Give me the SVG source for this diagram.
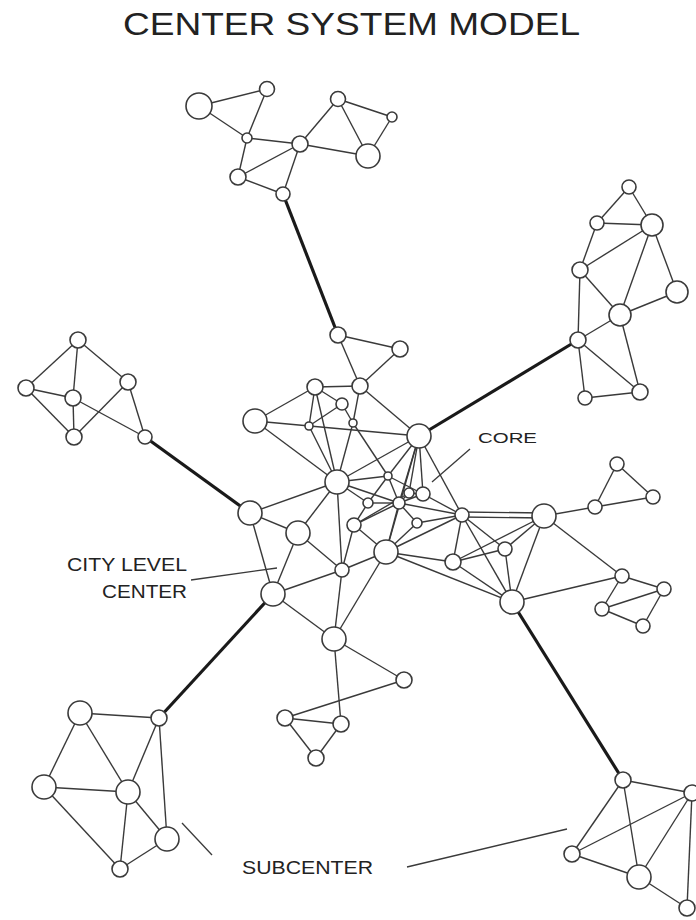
<svg xmlns="http://www.w3.org/2000/svg" width="696" height="920" viewBox="0 0 696 920">
<style>
.e{stroke:#3a3a3a;stroke-width:1.4;fill:none}
.t{stroke:#1a1a1a;stroke-width:3.2;fill:none}
.l{stroke:#3a3a3a;stroke-width:1.3;fill:none}
circle{fill:#fff;stroke:#3a3a3a;stroke-width:1.6}
text{font-family:"Liberation Sans",Arial,sans-serif;fill:#222}
</style>
<rect width="696" height="920" fill="#fff"/>
<text x="123" y="35" font-size="32" textLength="457" lengthAdjust="spacingAndGlyphs">CENTER SYSTEM MODEL</text>
<g id="connectors">
<!-- top cluster -->
<line class="e" x1="199" y1="106" x2="267" y2="89"/>
<line class="e" x1="199" y1="106" x2="247" y2="138"/>
<line class="e" x1="267" y1="89" x2="247" y2="138"/>
<line class="e" x1="247" y1="138" x2="300" y2="144"/>
<line class="e" x1="247" y1="138" x2="238" y2="177"/>
<line class="e" x1="238" y1="177" x2="300" y2="144"/>
<line class="e" x1="238" y1="177" x2="283" y2="194"/>
<line class="e" x1="300" y1="144" x2="283" y2="194"/>
<line class="e" x1="300" y1="144" x2="338" y2="99"/>
<line class="e" x1="300" y1="144" x2="368" y2="156"/>
<line class="e" x1="338" y1="99" x2="368" y2="156"/>
<line class="e" x1="338" y1="99" x2="392" y2="117"/>
<line class="e" x1="392" y1="117" x2="368" y2="156"/>
<line class="t" x1="283" y1="194" x2="338" y2="335"/>
<!-- upper core -->
<line class="e" x1="338" y1="335" x2="400" y2="349"/>
<line class="e" x1="338" y1="335" x2="360" y2="386"/>
<line class="e" x1="400" y1="349" x2="360" y2="386"/>
<line class="e" x1="360" y1="386" x2="315" y2="387"/>
<line class="e" x1="360" y1="386" x2="419" y2="436"/>
<line class="e" x1="360" y1="386" x2="353" y2="423"/>
<line class="e" x1="315" y1="387" x2="255" y2="421"/>
<line class="e" x1="315" y1="387" x2="309" y2="426"/>
<line class="e" x1="315" y1="387" x2="342" y2="404"/>
<line class="e" x1="315" y1="387" x2="337" y2="482"/>
<line class="e" x1="255" y1="421" x2="419" y2="436"/>
<line class="e" x1="255" y1="421" x2="337" y2="482"/>
<line class="e" x1="309" y1="426" x2="337" y2="482"/>
<line class="e" x1="353" y1="423" x2="337" y2="482"/>
<line class="e" x1="342" y1="404" x2="309" y2="426"/>
<line class="e" x1="342" y1="404" x2="353" y2="423"/>
<line class="e" x1="353" y1="423" x2="388" y2="476"/>
<line class="e" x1="337" y1="482" x2="419" y2="436"/>
<line class="e" x1="337" y1="482" x2="250" y2="513"/>
<line class="e" x1="337" y1="482" x2="298" y2="533"/>
<line class="e" x1="337" y1="482" x2="342" y2="570"/>
<line class="e" x1="337" y1="482" x2="388" y2="476"/>
<line class="e" x1="337" y1="482" x2="399" y2="503"/>
<line class="e" x1="337" y1="482" x2="368" y2="503"/>
<line class="e" x1="419" y1="436" x2="388" y2="476"/>
<line class="e" x1="419" y1="436" x2="399" y2="503"/>
<line class="e" x1="419" y1="436" x2="409" y2="493"/>
<line class="e" x1="419" y1="436" x2="423" y2="494"/>
<line class="e" x1="419" y1="436" x2="386" y2="552"/>
<line class="e" x1="419" y1="436" x2="462" y2="515"/>
<line class="t" x1="419" y1="436" x2="578" y2="340"/>
<!-- core star -->
<line class="e" x1="399" y1="503" x2="388" y2="476"/>
<line class="e" x1="399" y1="503" x2="409" y2="493"/>
<line class="e" x1="399" y1="503" x2="423" y2="494"/>
<line class="e" x1="399" y1="503" x2="368" y2="503"/>
<line class="e" x1="399" y1="503" x2="417" y2="523"/>
<line class="e" x1="399" y1="503" x2="354" y2="525"/>
<line class="e" x1="399" y1="503" x2="386" y2="552"/>
<line class="e" x1="399" y1="503" x2="462" y2="515"/>
<line class="e" x1="409" y1="493" x2="423" y2="494"/>
<line class="e" x1="388" y1="476" x2="423" y2="494"/>
<line class="e" x1="368" y1="503" x2="354" y2="525"/>
<line class="e" x1="368" y1="503" x2="388" y2="476"/>
<line class="e" x1="423" y1="494" x2="462" y2="515"/>
<line class="e" x1="417" y1="523" x2="462" y2="515"/>
<line class="e" x1="417" y1="523" x2="386" y2="552"/>
<line class="e" x1="386" y1="552" x2="462" y2="515"/>
<line class="e" x1="386" y1="552" x2="453" y2="562"/>
<line class="e" x1="386" y1="552" x2="512" y2="602"/>
<line class="e" x1="386" y1="552" x2="354" y2="525"/>
<line class="e" x1="386" y1="552" x2="342" y2="570"/>
<line class="e" x1="386" y1="552" x2="334" y2="639"/>
<line class="e" x1="354" y1="525" x2="342" y2="570"/>
<line class="e" x1="354" y1="525" x2="409" y2="493"/>
<!-- left center -->
<line class="e" x1="250" y1="513" x2="298" y2="533"/>
<line class="e" x1="250" y1="513" x2="273" y2="594"/>
<line class="e" x1="298" y1="533" x2="273" y2="594"/>
<line class="e" x1="298" y1="533" x2="342" y2="570"/>
<line class="e" x1="273" y1="594" x2="342" y2="570"/>
<line class="e" x1="273" y1="594" x2="334" y2="639"/>
<line class="e" x1="342" y1="570" x2="334" y2="639"/>
<line class="t" x1="145" y1="437" x2="250" y2="513"/>
<line class="t" x1="273" y1="594" x2="159" y2="718"/>
<!-- left cluster -->
<line class="e" x1="78" y1="340" x2="26" y2="388"/>
<line class="e" x1="78" y1="340" x2="73" y2="398"/>
<line class="e" x1="78" y1="340" x2="128" y2="382"/>
<line class="e" x1="26" y1="388" x2="73" y2="398"/>
<line class="e" x1="26" y1="388" x2="74" y2="437"/>
<line class="e" x1="73" y1="398" x2="74" y2="437"/>
<line class="e" x1="73" y1="398" x2="145" y2="437"/>
<line class="e" x1="128" y1="382" x2="74" y2="437"/>
<line class="e" x1="128" y1="382" x2="145" y2="437"/>
<!-- right top cluster -->
<line class="e" x1="629" y1="187" x2="597" y2="223"/>
<line class="e" x1="629" y1="187" x2="652" y2="225"/>
<line class="e" x1="597" y1="223" x2="652" y2="225"/>
<line class="e" x1="597" y1="223" x2="580" y2="270"/>
<line class="e" x1="652" y1="225" x2="580" y2="270"/>
<line class="e" x1="652" y1="225" x2="620" y2="315"/>
<line class="e" x1="652" y1="225" x2="677" y2="292"/>
<line class="e" x1="677" y1="292" x2="620" y2="315"/>
<line class="e" x1="580" y1="270" x2="620" y2="315"/>
<line class="e" x1="580" y1="270" x2="578" y2="340"/>
<line class="e" x1="620" y1="315" x2="578" y2="340"/>
<line class="e" x1="620" y1="315" x2="640" y2="392"/>
<line class="e" x1="578" y1="340" x2="640" y2="392"/>
<line class="e" x1="578" y1="340" x2="585" y2="398"/>
<line class="e" x1="585" y1="398" x2="640" y2="392"/>
<!-- right middle cluster -->
<line class="e" x1="462" y1="512" x2="544" y2="513"/>
<line class="e" x1="462" y1="517" x2="544" y2="518"/>
<line class="e" x1="544" y1="516" x2="595" y2="507"/>
<line class="e" x1="595" y1="507" x2="617" y2="464"/>
<line class="e" x1="595" y1="507" x2="653" y2="497"/>
<line class="e" x1="617" y1="464" x2="653" y2="497"/>
<line class="e" x1="544" y1="516" x2="505" y2="549"/>
<line class="e" x1="544" y1="516" x2="453" y2="562"/>
<line class="e" x1="544" y1="516" x2="512" y2="602"/>
<line class="e" x1="544" y1="516" x2="622" y2="576"/>
<line class="e" x1="462" y1="515" x2="505" y2="549"/>
<line class="e" x1="462" y1="515" x2="453" y2="562"/>
<line class="e" x1="462" y1="515" x2="512" y2="602"/>
<line class="e" x1="453" y1="562" x2="505" y2="549"/>
<line class="e" x1="453" y1="562" x2="512" y2="602"/>
<line class="e" x1="505" y1="549" x2="512" y2="602"/>
<line class="e" x1="512" y1="602" x2="622" y2="576"/>
<line class="e" x1="622" y1="576" x2="664" y2="589"/>
<line class="e" x1="622" y1="576" x2="602" y2="609"/>
<line class="e" x1="602" y1="609" x2="664" y2="589"/>
<line class="e" x1="602" y1="609" x2="643" y2="626"/>
<line class="e" x1="643" y1="626" x2="664" y2="589"/>
<line class="t" x1="512" y1="602" x2="623" y2="780"/>
<!-- bottom middle -->
<line class="e" x1="334" y1="639" x2="404" y2="680"/>
<line class="e" x1="334" y1="639" x2="341" y2="724"/>
<line class="e" x1="404" y1="680" x2="285" y2="718"/>
<line class="e" x1="285" y1="718" x2="341" y2="724"/>
<line class="e" x1="285" y1="718" x2="316" y2="758"/>
<line class="e" x1="341" y1="724" x2="316" y2="758"/>
<!-- bottom left -->
<line class="e" x1="80" y1="713" x2="159" y2="718"/>
<line class="e" x1="80" y1="713" x2="44" y2="787"/>
<line class="e" x1="80" y1="713" x2="128" y2="792"/>
<line class="e" x1="159" y1="718" x2="128" y2="792"/>
<line class="e" x1="159" y1="718" x2="167" y2="839"/>
<line class="e" x1="44" y1="787" x2="128" y2="792"/>
<line class="e" x1="44" y1="787" x2="120" y2="869"/>
<line class="e" x1="128" y1="792" x2="120" y2="869"/>
<line class="e" x1="128" y1="792" x2="167" y2="839"/>
<line class="e" x1="167" y1="839" x2="120" y2="869"/>
<!-- bottom right -->
<line class="e" x1="623" y1="780" x2="692" y2="793"/>
<line class="e" x1="623" y1="780" x2="572" y2="854"/>
<line class="e" x1="623" y1="780" x2="639" y2="877"/>
<line class="e" x1="692" y1="793" x2="572" y2="854"/>
<line class="e" x1="692" y1="793" x2="639" y2="877"/>
<line class="e" x1="692" y1="793" x2="687" y2="908"/>
<line class="e" x1="572" y1="854" x2="639" y2="877"/>
<line class="e" x1="639" y1="877" x2="687" y2="908"/>
<!-- label leaders -->
<line class="l" x1="470" y1="449" x2="432" y2="482"/>
<line class="l" x1="191" y1="580" x2="277" y2="568"/>
<line class="l" x1="182" y1="823" x2="212" y2="855"/>
<line class="l" x1="407" y1="867" x2="567" y2="829"/>
</g>
<g id="n-top-A"><circle cx="199" cy="106" r="13"/></g>
<g id="n-top-B"><circle cx="267" cy="89" r="7.5"/></g>
<g id="n-top-C"><circle cx="247" cy="138" r="5"/></g>
<g id="n-top-D"><circle cx="300" cy="144" r="8"/></g>
<g id="n-top-E"><circle cx="238" cy="177" r="8"/></g>
<g id="n-top-F"><circle cx="283" cy="194" r="7"/></g>
<g id="n-top-G"><circle cx="338" cy="99" r="7.5"/></g>
<g id="n-top-H"><circle cx="392" cy="117" r="5"/></g>
<g id="n-top-I"><circle cx="368" cy="156" r="12"/></g>
<g id="n-J"><circle cx="338" cy="335" r="8"/></g>
<g id="n-K"><circle cx="400" cy="349" r="8"/></g>
<g id="n-L"><circle cx="360" cy="386" r="8"/></g>
<g id="n-M"><circle cx="315" cy="387" r="8"/></g>
<g id="n-N"><circle cx="255" cy="421" r="12"/></g>
<g id="n-n1"><circle cx="309" cy="426" r="4"/></g>
<g id="n-n2"><circle cx="342" cy="404" r="6"/></g>
<g id="n-n3"><circle cx="353" cy="423" r="4"/></g>
<g id="n-O"><circle cx="419" cy="436" r="12"/></g>
<g id="n-P"><circle cx="337" cy="482" r="12"/></g>
<g id="n-Q"><circle cx="250" cy="513" r="12"/></g>
<g id="n-R"><circle cx="298" cy="533" r="12"/></g>
<g id="n-S"><circle cx="342" cy="570" r="7"/></g>
<g id="n-T"><circle cx="386" cy="552" r="12"/></g>
<g id="n-U"><circle cx="354" cy="525" r="7"/></g>
<g id="n-V"><circle cx="368" cy="503" r="5"/></g>
<g id="n-W"><circle cx="388" cy="476" r="4"/></g>
<g id="n-X"><circle cx="399" cy="503" r="6"/></g>
<g id="n-Y"><circle cx="409" cy="493" r="5"/></g>
<g id="n-Z"><circle cx="423" cy="494" r="7"/></g>
<g id="n-AA"><circle cx="417" cy="523" r="5"/></g>
<g id="n-BB"><circle cx="462" cy="515" r="7"/></g>
<g id="n-s2"><circle cx="273" cy="594" r="12"/></g>
<g id="n-left-a"><circle cx="78" cy="340" r="8"/></g>
<g id="n-left-b"><circle cx="26" cy="388" r="8"/></g>
<g id="n-left-c"><circle cx="73" cy="398" r="8"/></g>
<g id="n-left-d"><circle cx="128" cy="382" r="8"/></g>
<g id="n-left-e"><circle cx="74" cy="437" r="8"/></g>
<g id="n-left-f"><circle cx="145" cy="437" r="7"/></g>
<g id="n-rt-1"><circle cx="629" cy="187" r="7"/></g>
<g id="n-rt-2"><circle cx="597" cy="223" r="7"/></g>
<g id="n-rt-3"><circle cx="652" cy="225" r="11"/></g>
<g id="n-rt-4"><circle cx="580" cy="270" r="8"/></g>
<g id="n-rt-5"><circle cx="677" cy="292" r="11"/></g>
<g id="n-rt-6"><circle cx="620" cy="315" r="11"/></g>
<g id="n-rt-7"><circle cx="578" cy="340" r="8"/></g>
<g id="n-rt-8"><circle cx="585" cy="398" r="7"/></g>
<g id="n-rt-9"><circle cx="640" cy="392" r="8"/></g>
<g id="n-rm-DD"><circle cx="544" cy="516" r="12"/></g>
<g id="n-rm-EE"><circle cx="505" cy="549" r="7"/></g>
<g id="n-rm-FF"><circle cx="453" cy="562" r="8"/></g>
<g id="n-rm-GG"><circle cx="512" cy="602" r="12"/></g>
<g id="n-rm-HH"><circle cx="595" cy="507" r="7"/></g>
<g id="n-rm-II"><circle cx="617" cy="464" r="7"/></g>
<g id="n-rm-JJ"><circle cx="653" cy="497" r="7"/></g>
<g id="n-rm-KK"><circle cx="622" cy="576" r="7"/></g>
<g id="n-rm-LL"><circle cx="664" cy="589" r="7"/></g>
<g id="n-rm-MM"><circle cx="602" cy="609" r="7"/></g>
<g id="n-rm-NN"><circle cx="643" cy="626" r="7"/></g>
<g id="n-bm-1"><circle cx="334" cy="639" r="12"/></g>
<g id="n-bm-2"><circle cx="404" cy="680" r="8"/></g>
<g id="n-bm-3"><circle cx="285" cy="718" r="8"/></g>
<g id="n-bm-4"><circle cx="341" cy="724" r="8"/></g>
<g id="n-bm-5"><circle cx="316" cy="758" r="8"/></g>
<g id="n-bl-1"><circle cx="80" cy="713" r="12"/></g>
<g id="n-bl-2"><circle cx="159" cy="718" r="8"/></g>
<g id="n-bl-3"><circle cx="44" cy="787" r="12"/></g>
<g id="n-bl-4"><circle cx="128" cy="792" r="12"/></g>
<g id="n-bl-5"><circle cx="167" cy="839" r="12"/></g>
<g id="n-bl-6"><circle cx="120" cy="869" r="8"/></g>
<g id="n-br-1"><circle cx="623" cy="780" r="8"/></g>
<g id="n-br-2"><circle cx="692" cy="793" r="8"/></g>
<g id="n-br-3"><circle cx="572" cy="854" r="8"/></g>
<g id="n-br-4"><circle cx="639" cy="877" r="12"/></g>
<g id="n-br-5"><circle cx="687" cy="908" r="8"/></g>
<g id="labels">
<text x="478" y="443" font-size="15" textLength="59" lengthAdjust="spacingAndGlyphs">CORE</text>
<text x="67" y="571" font-size="18" textLength="120" lengthAdjust="spacingAndGlyphs">CITY LEVEL</text>
<text x="102" y="598" font-size="18" textLength="85" lengthAdjust="spacingAndGlyphs">CENTER</text>
<text x="242" y="874" font-size="18" textLength="131" lengthAdjust="spacingAndGlyphs">SUBCENTER</text>
</g>
</svg>
